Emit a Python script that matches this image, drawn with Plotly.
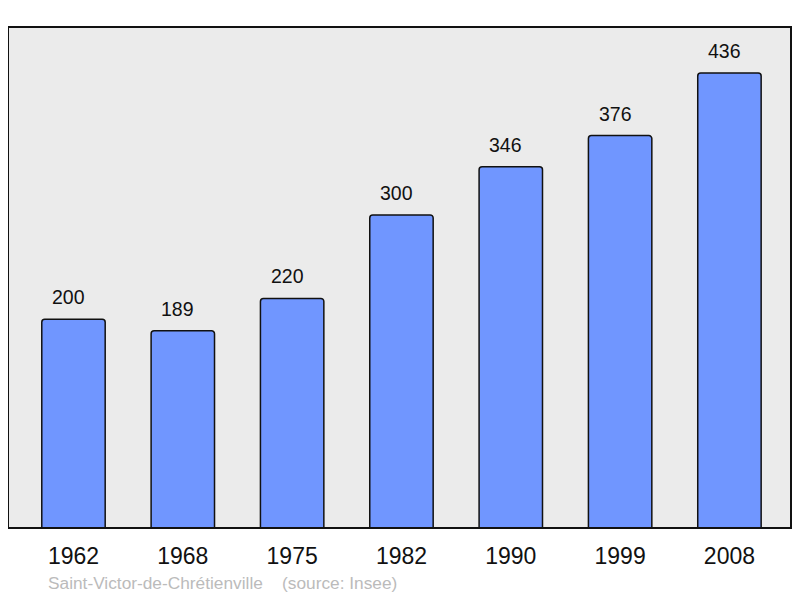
import plotly.graph_objects as go

years = ["1962", "1968", "1975", "1982", "1990", "1999", "2008"]
population = [200, 189, 220, 300, 346, 376, 436]
source_text = "Saint-Victor-de-Chrétienville    (source: Insee)"

xs = list(range(len(years)))
FONT = "Liberation Sans, Arial, sans-serif"

fig = go.Figure()
fig.add_trace(go.Bar(
    x=xs, y=population, width=0.58,
    marker=dict(color="#7096ff", line=dict(color="#111111", width=1.5), cornerradius=3),
    hoverinfo="skip",
))

for x, v in zip(xs, population):
    fig.add_annotation(x=x, y=v, text=str(v), showarrow=False, yanchor="bottom",
                       yshift=9, xshift=-5, font=dict(size=19.5, color="#111111", family=FONT))

fig.add_shape(type="rect", xref="paper", yref="paper", x0=0, x1=1, y0=0, y1=1,
              line=dict(color="#111111", width=2), layer="above")

fig.add_annotation(xref="paper", yref="paper", x=0.048, y=-0.11, xanchor="left", yanchor="middle",
                   text=source_text, showarrow=False,
                   font=dict(size=17.3, color="#bbbbbb", family=FONT))

fig.update_layout(
    width=792, height=590,
    margin=dict(l=0, r=9, t=19, b=70),
    paper_bgcolor="white", plot_bgcolor="#ebebeb",
    showlegend=False,
    xaxis=dict(range=[-0.599, 6.563], tickmode="array", tickvals=xs, ticktext=years,
               showgrid=False, zeroline=False, ticks="outside", ticklen=7,
               tickcolor="rgba(0,0,0,0)",
               tickfont=dict(size=23, color="#111111", family=FONT)),
    yaxis=dict(range=[0, 480], showgrid=False, zeroline=False, showticklabels=False),
)

fig.write_html("out.html")
